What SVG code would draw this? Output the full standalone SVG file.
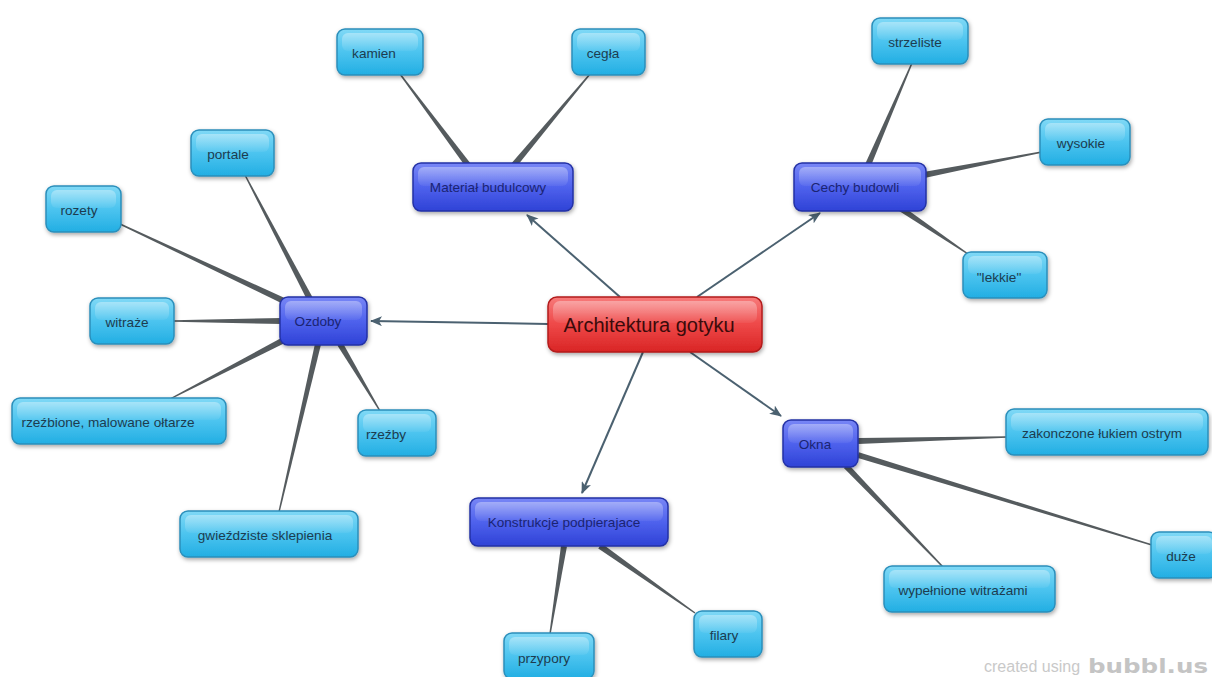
<svg xmlns="http://www.w3.org/2000/svg" width="1212" height="677" viewBox="0 0 1212 677">
<defs>
<linearGradient id="gc" x1="0" y1="0" x2="0" y2="1">
<stop offset="0" stop-color="#80d9f6"/><stop offset="0.5" stop-color="#4cc4ef"/><stop offset="1" stop-color="#22aee3"/>
</linearGradient>
<linearGradient id="gb" x1="0" y1="0" x2="0" y2="1">
<stop offset="0" stop-color="#7886f6"/><stop offset="0.5" stop-color="#4f62ed"/><stop offset="1" stop-color="#2e42d6"/>
</linearGradient>
<linearGradient id="gr" x1="0" y1="0" x2="0" y2="1">
<stop offset="0" stop-color="#f77a7a"/><stop offset="0.5" stop-color="#ee4848"/><stop offset="1" stop-color="#d92525"/>
</linearGradient>
<linearGradient id="gloss" x1="0" y1="0" x2="0" y2="1">
<stop offset="0" stop-color="#ffffff" stop-opacity="0.35"/><stop offset="1" stop-color="#ffffff" stop-opacity="0.05"/>
</linearGradient>
<filter id="sh" x="-20%" y="-30%" width="140%" height="170%">
<feDropShadow dx="1" dy="2" stdDeviation="2" flood-color="#000" flood-opacity="0.35"/>
</filter>
<marker id="ah" viewBox="0 0 12 10" refX="11" refY="5" markerWidth="12" markerHeight="10" markerUnits="userSpaceOnUse" orient="auto">
<path d="M0,0 L12,5 L0,10 L3,5 z" fill="#4b6170"/>
</marker>
<style>
.c{fill:url(#gc);stroke:#2b8fbb;stroke-width:1.5;filter:url(#sh)}
.b{fill:url(#gb);stroke:#2330a5;stroke-width:1.5;filter:url(#sh)}
.r{fill:url(#gr);stroke:#b31c1c;stroke-width:1.5;filter:url(#sh)}
.g{fill:url(#gloss)}
text{font-family:"Liberation Sans",Arial,sans-serif;font-size:13.6px;text-anchor:middle;dominant-baseline:central}
.tc{fill:#1d3c4f}
.tb{fill:#1b2472}
.tr{fill:#3b0b0b;font-size:20px}
.arr{stroke:#4b6170;stroke-width:2;fill:none;marker-end:url(#ah)}
.tp{fill:#555b5e}
</style>
</defs>
<rect width="1212" height="677" fill="#ffffff"/>

<g id="connectors">
<line class="arr" x1="620" y1="297" x2="527" y2="215"/>
<line class="arr" x1="697" y1="297" x2="820" y2="213"/>
<line class="arr" x1="548" y1="324" x2="371" y2="321"/>
<line class="arr" x1="643" y1="352" x2="582" y2="493"/>
<line class="arr" x1="690" y1="352" x2="781" y2="416"/>
<polygon class="tp" points="470.4,163.2 400.56,73.58 399.44,74.42 465.6,166.8"/>
<polygon class="tp" points="516.3,166.92 590.54,74.45 589.46,73.55 511.7,163.08"/>
<polygon class="tp" points="870.75,166.19 912.64,63.28 911.36,62.72 865.25,163.81"/>
<polygon class="tp" points="924.57,177.95 1042.13,152.69 1041.87,151.31 923.43,172.05"/>
<polygon class="tp" points="898.32,210.48 967.61,254.58 968.39,253.42 901.68,205.52"/>
<polygon class="tp" points="312.66,297.61 245.62,174.68 244.38,175.32 307.34,300.39"/>
<polygon class="tp" points="285.27,298.29 120.3,223.37 119.7,224.63 282.73,303.71"/>
<polygon class="tp" points="282,318 173,320.3 173,321.7 282,324"/>
<polygon class="tp" points="282.62,337.34 169.68,398.38 170.32,399.62 285.38,342.66"/>
<polygon class="tp" points="337.42,345.54 379.4,411.36 380.6,410.64 342.58,342.46"/>
<polygon class="tp" points="315.08,343.32 278.32,511.84 279.68,512.16 320.92,344.68"/>
<polygon class="tp" points="858.08,444 1007.02,437.7 1006.98,436.3 857.92,438"/>
<polygon class="tp" points="857.12,457.87 1151.79,545.67 1152.21,544.33 858.88,452.13"/>
<polygon class="tp" points="843.84,468.08 942.5,567.49 943.5,566.51 848.16,463.92"/>
<polygon class="tp" points="561.04,545.53 549.31,633.89 550.69,634.11 566.96,546.47"/>
<polygon class="tp" points="598.27,548.45 694.6,613.57 695.4,612.43 601.73,543.55"/>
</g>

<g id="n-center"><rect class="r" x="548" y="297" width="214" height="55" rx="9"/><rect class="g" x="553" y="301" width="204" height="22" rx="7"/><text class="tr" x="649" y="325">Architektura gotyku</text></g>

<g id="n-material"><rect class="b" x="413" y="163" width="160" height="48" rx="8"/><rect class="g" x="418" y="167" width="150" height="19" rx="6"/><text class="tb" x="488" y="187">Materiał budulcowy</text></g>
<g id="n-cechy"><rect class="b" x="794" y="163" width="132" height="48" rx="8"/><rect class="g" x="799" y="167" width="122" height="19" rx="6"/><text class="tb" x="855" y="187">Cechy budowli</text></g>
<g id="n-ozdoby"><rect class="b" x="280" y="297" width="87" height="48" rx="8"/><rect class="g" x="285" y="301" width="77" height="19" rx="6"/><text class="tb" x="318" y="321">Ozdoby</text></g>
<g id="n-okna"><rect class="b" x="783" y="420" width="75" height="47" rx="8"/><rect class="g" x="788" y="424" width="65" height="19" rx="6"/><text class="tb" x="815" y="444">Okna</text></g>
<g id="n-konstrukcje"><rect class="b" x="470" y="498" width="198" height="48" rx="8"/><rect class="g" x="475" y="502" width="188" height="19" rx="6"/><text class="tb" x="564" y="522">Konstrukcje podpierajace</text></g>

<g id="n-kamien"><rect class="c" x="337" y="29" width="86" height="46" rx="8"/><rect class="g" x="342" y="33" width="76" height="18" rx="6"/><text class="tc" x="374" y="53">kamien</text></g>
<g id="n-cegla"><rect class="c" x="572" y="29" width="73" height="46" rx="8"/><rect class="g" x="577" y="33" width="63" height="18" rx="6"/><text class="tc" x="603" y="53">cegła</text></g>
<g id="n-strzeliste"><rect class="c" x="872" y="18" width="96" height="46" rx="8"/><rect class="g" x="877" y="22" width="86" height="18" rx="6"/><text class="tc" x="915" y="42">strzeliste</text></g>
<g id="n-wysokie"><rect class="c" x="1040" y="119" width="90" height="46" rx="8"/><rect class="g" x="1045" y="123" width="80" height="18" rx="6"/><text class="tc" x="1081" y="143">wysokie</text></g>
<g id="n-lekkie"><rect class="c" x="963" y="252" width="84" height="46" rx="8"/><rect class="g" x="968" y="256" width="74" height="18" rx="6"/><text class="tc" x="999" y="277">"lekkie"</text></g>
<g id="n-portale"><rect class="c" x="191" y="130" width="83" height="46" rx="8"/><rect class="g" x="196" y="134" width="73" height="18" rx="6"/><text class="tc" x="228" y="154">portale</text></g>
<g id="n-rozety"><rect class="c" x="46" y="186" width="75" height="46" rx="8"/><rect class="g" x="51" y="190" width="65" height="18" rx="6"/><text class="tc" x="79" y="210">rozety</text></g>
<g id="n-witraze"><rect class="c" x="90" y="298" width="84" height="46" rx="8"/><rect class="g" x="95" y="302" width="74" height="18" rx="6"/><text class="tc" x="127" y="322">witraże</text></g>
<g id="n-oltarze"><rect class="c" x="12" y="398" width="214" height="46" rx="8"/><rect class="g" x="17" y="402" width="204" height="18" rx="6"/><text class="tc" x="108" y="422">rzeźbione, malowane ołtarze</text></g>
<g id="n-rzezby"><rect class="c" x="358" y="410" width="78" height="46" rx="8"/><rect class="g" x="363" y="414" width="68" height="18" rx="6"/><text class="tc" x="386" y="434">rzeźby</text></g>
<g id="n-sklepienia"><rect class="c" x="180" y="511" width="178" height="46" rx="8"/><rect class="g" x="185" y="515" width="168" height="18" rx="6"/><text class="tc" x="265" y="535">gwieździste sklepienia</text></g>
<g id="n-zakonczone"><rect class="c" x="1006" y="409" width="202" height="46" rx="8"/><rect class="g" x="1011" y="413" width="192" height="18" rx="6"/><text class="tc" x="1102" y="433">zakonczone łukiem ostrym</text></g>
<g id="n-duze"><rect class="c" x="1151" y="532" width="66" height="46" rx="8"/><rect class="g" x="1156" y="536" width="56" height="18" rx="6"/><text class="tc" x="1181" y="556">duże</text></g>
<g id="n-wypelnione"><rect class="c" x="884" y="566" width="171" height="46" rx="8"/><rect class="g" x="889" y="570" width="161" height="18" rx="6"/><text class="tc" x="963" y="590">wypełnione witrażami</text></g>
<g id="n-przypory"><rect class="c" x="504" y="633" width="90" height="46" rx="8"/><rect class="g" x="509" y="637" width="80" height="18" rx="6"/><text class="tc" x="544" y="658">przypory</text></g>
<g id="n-filary"><rect class="c" x="694" y="611" width="68" height="46" rx="8"/><rect class="g" x="699" y="615" width="58" height="18" rx="6"/><text class="tc" x="724" y="635">filary</text></g>

<g id="watermark">
<text x="984" y="672" style="text-anchor:start;font-size:16px;fill:#c9c9c9;dominant-baseline:auto">created using</text>
<text x="1088" y="673" style="text-anchor:start;font-family:'DejaVu Sans',sans-serif;font-weight:bold;font-size:20px;fill:#c4c4c4;dominant-baseline:auto" textLength="120" lengthAdjust="spacingAndGlyphs">bubbl.us</text>
</g>
</svg>
